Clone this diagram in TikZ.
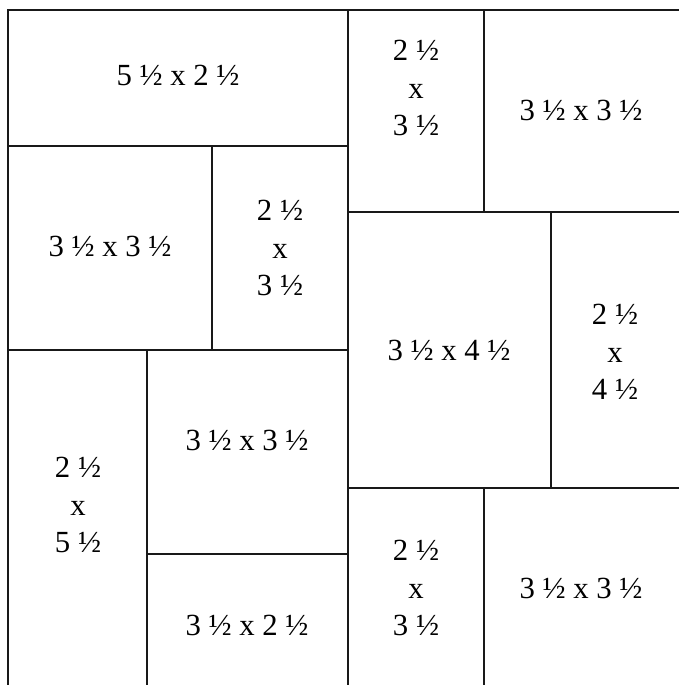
\documentclass[tikz,border=0pt]{standalone}
\usepackage{fontspec}
\setmainfont{Liberation Serif}

\begin{document}
\begin{tikzpicture}[
    x=0.02cm, y=-0.02cm,
    wall/.style={line width=1.5pt, black!90},
    size/.style={align=center, font=\fontsize{17.5}{21.5}\selectfont, inner sep=0pt}
]
    \useasboundingbox (0,0) rectangle (679,685);

    \draw[wall, line join=miter] (8,685) -- (8,10) -- (679,10);
    \draw[wall] (348,10) -- (348,685);
    \draw[wall] (8,146) -- (348,146);
    \draw[wall] (212,146) -- (212,350);
    \draw[wall] (8,350) -- (348,350);
    \draw[wall] (147,350) -- (147,685);
    \draw[wall] (147,554) -- (348,554);
    \draw[wall] (484,10) -- (484,212);
    \draw[wall] (348,212) -- (679,212);
    \draw[wall] (551,212) -- (551,488);
    \draw[wall] (348,488) -- (679,488);
    \draw[wall] (484,488) -- (484,685);

    \node[size] (topwide) at (178,75) {5 ½ x 2 ½};
    \node[size] (topnarrow) at (416,88) {2 ½\\x\\3 ½};
    \node[size] (topright) at (581,110) {3 ½ x 3 ½};
    \node[size] (midleft) at (110,246) {3 ½ x 3 ½};
    \node[size] (midnarrow) at (280,248) {2 ½\\x\\3 ½};
    \node[size] (center) at (449,350) {3 ½ x 4 ½};
    \node[size] (rightnarrow) at (615,352) {2 ½\\x\\4 ½};
    \node[size] (lowsquare) at (247,440) {3 ½ x 3 ½};
    \node[size] (leftlong) at (78,505) {2 ½\\x\\5 ½};
    \node[size] (bottomwide) at (247,625) {3 ½ x 2 ½};
    \node[size] (bottomnarrow) at (416,588) {2 ½\\x\\3 ½};
    \node[size] (bottomright) at (581,588) {3 ½ x 3 ½};
\end{tikzpicture}
\end{document}
